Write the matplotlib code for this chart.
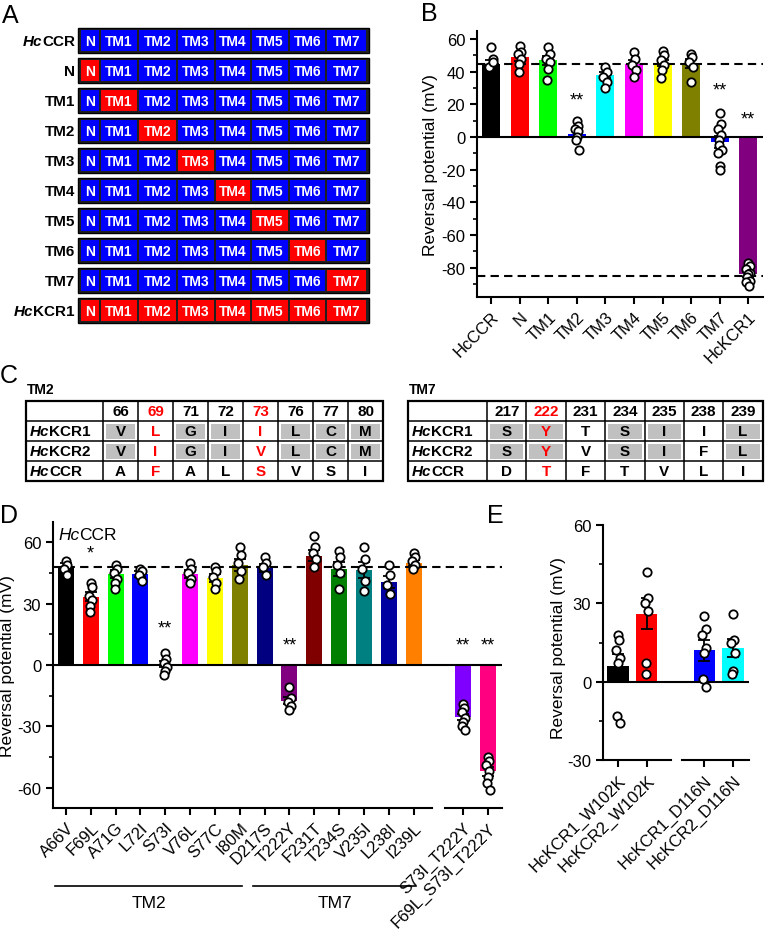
import numpy as np
import matplotlib
matplotlib.use("Agg")
import matplotlib.pyplot as plt
from matplotlib.patches import Rectangle
from matplotlib.ticker import MultipleLocator

plt.rcParams["font.family"] = ["Liberation Sans", "DejaVu Sans"]
plt.rcParams["axes.unicode_minus"] = False

W, H = 766, 945
RED = "#ff0000"
BLUE = "#0000ff"

# ---------------- panel A: chimera layout
chimera_rows = ["HcCCR", "N", "TM1", "TM2", "TM3", "TM4", "TM5", "TM6", "TM7", "HcKCR1"]
segments = ["N", "TM1", "TM2", "TM3", "TM4", "TM5", "TM6", "TM7"]
swapped = [[], [0], [1], [2], [3], [4], [5], [6], [7], [0, 1, 2, 3, 4, 5, 6, 7]]

# ---------------- panel B
b_labels = ["HcCCR", "N", "TM1", "TM2", "TM3", "TM4", "TM5", "TM6", "TM7", "HcKCR1"]
b_means = [45, 49, 47, 2, 38, 45, 45.5, 45, -3, -84]
b_sem = [2.5, 2.3, 2.6, 2.0, 2.0, 2.2, 2.0, 2.6, 3.5, 1.5]
b_colors = ["#000000", "#ff0000", "#00ff00", "#0000ff", "#00ffff",
            "#ff00ff", "#ffff00", "#808000", "#0000ff", "#800080"]
b_points = [
    [55, 48, 43, 46],
    [56, 52, 51, 48, 45, 40],
    [55, 51, 48, 46, 42, 35],
    [10, 7, 5, 4, 0, -2, -8],
    [43, 40, 37, 34, 30],
    [52, 48, 44, 41, 37],
    [53, 50, 47, 44, 41, 36],
    [51, 49, 46, 43, 34],
    [15, 8, 5, 1, -2, -5, -8, -10, -18, -20],
    [-77, -79, -81, -83, -84, -86, -88, -89, -91],
]
b_stars = {3: (23, "**"), 8: (29, "**"), 9: (11, "**")}
b_dashes = [45, -85]

# ---------------- panel C: alignments
tm2_positions = [66, 69, 71, 72, 73, 76, 77, 80]
tm2_red = [69, 73]
tm2_rows = [("HcKCR1", "VLGIILCM"), ("HcKCR2", "VIGIVLCM"), ("HcCCR", "AFALSVSI")]
tm7_positions = [217, 222, 231, 234, 235, 238, 239]
tm7_red = [222]
tm7_rows = [("HcKCR1", "SYTSIIL"), ("HcKCR2", "SYVSIFL"), ("HcCCR", "DTFTVLI")]

# ---------------- panel D
d_labels = ["A66V", "F69L", "A71G", "L72I", "S73I", "V76L", "S77C", "I80M",
            "D217S", "T222Y", "F231T", "T234S", "V235I", "L238I", "I239L",
            "S73I_T222Y", "F69L_S73I_T222Y"]
d_pos = list(range(15)) + [16, 17]
d_means = [48.5, 33.5, 44.5, 44.5, 0.5, 44.5, 42.5, 49, 47.5, -17.5,
           53.5, 47, 46.5, 40.5, 50, -25.5, -52]
d_sem = [1.5, 2.3, 2.0, 1.3, 1.6, 1.9, 2.0, 2.9, 1.8, 1.8,
         2.6, 3.3, 3.7, 2.9, 1.3, 1.6, 2.2]
d_colors = ["#000000", "#ff0000", "#00ff00", "#0000ff", "#00ffff", "#ff00ff",
            "#ffff00", "#808000", "#000080", "#800080", "#800000", "#008000",
            "#008080", "#0000a0", "#ff8000", "#8000ff", "#ff0080"]
d_points = [
    [51, 49, 47, 44],
    [40, 38, 34, 32, 29, 26],
    [49, 47, 45, 42, 40, 37],
    [47, 46, 44, 41],
    [6, 3, 1, -1, -3, -5],
    [50, 47, 45, 42, 40],
    [48, 46, 43, 40, 37],
    [58, 54, 50, 46, 42],
    [53, 50, 48, 44],
    [-11, -16, -18, -20, -22],
    [63, 58, 55, 52, 48],
    [56, 53, 49, 45, 37],
    [58, 52, 47, 41, 36],
    [49, 44, 39, 35],
    [55, 53, 51, 49, 47],
    [-19, -21, -23, -26, -28, -30, -32],
    [-45, -47, -49, -52, -55, -58, -61],
]
d_stars = {1: (55, "*"), 4: (18, "**"), 9: (10, "**"), 15: (10, "**"), 16: (10, "**")}
d_dash = 48
d_groups = [("TM2", 0, 7), ("TM7", 8, 14)]

# ---------------- panel E
e_labels = ["HcKCR1_W102K", "HcKCR2_W102K", "HcKCR1_D116N", "HcKCR2_D116N"]
e_pos = [0, 1, 3, 4]
e_means = [6, 26, 12, 13]
e_sem = [4.5, 6, 4, 3.5]
e_colors = ["#000000", "#ff0000", "#0000ff", "#00ffff"]
e_points = [
    [18, 16, 12, 9, 7, -13, -16],
    [42, 32, 30, 27, 7, 3],
    [25, 20, 18, 13, 11, 1, -2],
    [26, 16, 15, 11, 4, 3],
]

fig = plt.figure(figsize=(W / 100, H / 100), dpi=100)
ax0 = fig.add_axes([0, 0, 1, 1])
ax0.set_xlim(0, W)
ax0.set_ylim(H, 0)
ax0.axis("off")
renderer = fig.canvas.get_renderer()


def px_axes(x0, y0, x1, y1):
    return fig.add_axes([x0 / W, 1 - y1 / H, (x1 - x0) / W, (y1 - y0) / H])


def hc_label(x, y, name, size, ha="left", weight="bold"):
    # "Hc" in italics, rest upright
    rest = name[2:]
    if ha == "left":
        t = ax0.text(x, y, "Hc", fontsize=size, style="italic", weight=weight,
                     ha="left", va="center")
        x1 = t.get_window_extent(renderer).x1
        ax0.text(x1, y, rest, fontsize=size, weight=weight, ha="left", va="center")
    else:
        t = ax0.text(x, y, rest, fontsize=size, weight=weight, ha="right", va="center")
        x0 = t.get_window_extent(renderer).x0
        ax0.text(x0, y, "Hc", fontsize=size, style="italic", weight=weight,
                 ha="right", va="center")


# panel letters
for letter, (lx, ly) in zip("ABCDE", [(10, 16), (429, 14), (9, 376), (9, 516), (495, 516)]):
    ax0.text(lx, ly, letter, fontsize=18, ha="center", va="center")

# ---- A
seg_edges = [80, 100, 138, 177, 215, 251, 289, 326, 367]
for i, (name, sw) in enumerate(zip(chimera_rows, swapped)):
    top = 29 + 30 * i
    ax0.add_patch(Rectangle((78, top), 291, 25, facecolor="#202020", edgecolor="k", lw=1))
    for j, seg in enumerate(segments):
        c = RED if j in sw else BLUE
        ax0.add_patch(Rectangle((seg_edges[j] + 1, top + 2),
                                seg_edges[j + 1] - seg_edges[j] - 2, 21,
                                facecolor=c, edgecolor="none"))
        ax0.text((seg_edges[j] + seg_edges[j + 1]) / 2, top + 12.5, seg, color="w",
                 fontsize=10, weight="bold", ha="center", va="center")
    if name.startswith("Hc"):
        hc_label(75, top + 12.5, name, 11, ha="right")
    else:
        ax0.text(75, top + 12.5, name, fontsize=11, weight="bold", ha="right", va="center")


# ---- C
def draw_table(x0, label_w, col_w, top, positions, red_pos, rows, title):
    row_h = 20
    ncol = len(positions)
    total_w = label_w + col_w * ncol
    nrow = len(rows) + 1
    ax0.text(x0 + 1, top - 12, title, fontsize=10, weight="bold", ha="left", va="center")
    for k, p in enumerate(positions):
        cx = x0 + label_w + col_w * (k + 0.5)
        ax0.text(cx, top + row_h / 2, str(p), fontsize=11, weight="bold",
                 color=RED if p in red_pos else "k", ha="center", va="center")
    kcr1, kcr2 = rows[0][1], rows[1][1]
    for r, (name, seq) in enumerate(rows):
        y = top + row_h * (r + 1)
        for k, aa in enumerate(seq):
            cx = x0 + label_w + col_w * k
            if r < 2 and kcr1[k] == kcr2[k]:
                ax0.add_patch(Rectangle((cx + 3, y + 2.5), col_w - 6, row_h - 5,
                                        facecolor="#c0c0c0", edgecolor="none"))
            ax0.text(cx + col_w / 2, y + row_h / 2, aa, fontsize=11, weight="bold",
                     color=RED if positions[k] in red_pos else "k",
                     ha="center", va="center")
        hc_label(x0 + 4, y + row_h / 2, name, 11)
    for r in range(1, nrow):
        ax0.plot([x0, x0 + total_w], [top + row_h * r] * 2, color="k", lw=1.1)
    for k in range(ncol):
        xx = x0 + label_w + col_w * k
        ax0.plot([xx, xx], [top, top + row_h * nrow], color="k", lw=1.1)
    ax0.add_patch(Rectangle((x0, top), total_w, row_h * nrow, facecolor="none",
                            edgecolor="k", lw=1.6))


draw_table(26, 77, 35, 402, tm2_positions, tm2_red, tm2_rows, "TM2")
draw_table(408, 79, 39.4, 402, tm7_positions, tm7_red, tm7_rows, "TM7")


# ---- bar panels
def style(ax, ylim, major, minor):
    ax.set_ylim(ylim)
    ax.yaxis.set_major_locator(MultipleLocator(major))
    ax.yaxis.set_minor_locator(MultipleLocator(minor))
    for s in ["top", "right"]:
        ax.spines[s].set_visible(False)
    ax.spines["left"].set_linewidth(1.5)
    ax.spines["bottom"].set_linewidth(1.5)
    ax.tick_params(which="major", direction="out", length=5, width=1.5, labelsize=12)
    ax.tick_params(which="minor", direction="out", length=3, width=1.2)
    ax.axhline(0, color="k", lw=1.5, zorder=5)
    ax.patch.set_alpha(0)


def bars(ax, xpos, means, sems, colors, points, width):
    ax.bar(xpos, means, width, color=colors, zorder=2)
    ax.errorbar(xpos, means, yerr=sems, fmt="none", ecolor="k", elinewidth=1.3,
                capsize=4, capthick=1.3, zorder=3)
    for x, pts in zip(xpos, points):
        off = 0.07 * np.sin(np.arange(len(pts)) * 2.4)
        ax.plot(x + off, pts, "o", ms=6, mfc="w", mec="k", mew=1.3, zorder=6, clip_on=False)


def broken_bottom(ax, pieces):
    ax.spines["bottom"].set_visible(False)
    for a, b in pieces:
        ax.plot([a, b], [0, 0], transform=ax.get_xaxis_transform(), color="k",
                lw=1.5, clip_on=False)


def xlabels(ax, pos, labels):
    ax.set_xticks(pos)
    ax.set_xticklabels(labels, rotation=45, ha="right", va="top",
                       rotation_mode="anchor", fontsize=12)


# B
axb = px_axes(477, 32, 763, 298)
bars(axb, range(len(b_means)), b_means, b_sem, b_colors, b_points, 0.63)
style(axb, (-98, 65), 20, 10)
axb.set_xlim(-0.5, 9.52)
for v in b_dashes:
    axb.axhline(v, color="k", lw=1.5, ls=(0, (4, 2.5)), zorder=5)
for k, (yv, s) in b_stars.items():
    axb.text(k, yv, s, fontsize=13, ha="center", va="center")
xlabels(axb, range(len(b_labels)), b_labels)
axb.set_ylabel("Reversal potential (mV)", fontsize=12.5)
axb.yaxis.set_label_coords(-0.136, 0.5)

# D
axd = px_axes(53, 523, 502, 809)
bars(axd, d_pos, d_means, d_sem, d_colors, d_points, 0.65)
style(axd, (-70, 70), 30, 15)
axd.set_xlim(-0.52, 17.56)
axd.axhline(d_dash, color="k", lw=1.5, ls=(0, (4, 2.5)), zorder=5)
for k, (yv, s) in d_stars.items():
    axd.text(d_pos[k], yv, s, fontsize=13, ha="center", va="center")
xlabels(axd, d_pos, d_labels)
broken_bottom(axd, [(-0.52, 14.75), (15.25, 17.56)])
axd.set_ylabel("Reversal potential (mV)", fontsize=12.5)
axd.yaxis.set_label_coords(-0.085, 0.5)
hc_label(58, 536, "HcCCR", 12.5, weight="normal")
for name, i0, i1 in d_groups:
    a, b = d_pos[i0] - 0.45, d_pos[i1] + 0.1
    axd.plot([a, b], [-0.273, -0.273], transform=axd.get_xaxis_transform(),
             color="k", lw=1.2, clip_on=False)
    axd.text((a + b) / 2, -0.33, name, transform=axd.get_xaxis_transform(),
             fontsize=12.5, ha="center", va="center")

# E
axe = px_axes(603, 526, 749, 761)
bars(axe, e_pos, e_means, e_sem, e_colors, e_points, 0.74)
style(axe, (-30, 60), 30, 15)
axe.set_xlim(-0.52, 4.56)
xlabels(axe, e_pos, e_labels)
broken_bottom(axe, [(-0.52, 1.85), (2.22, 4.56)])
axe.set_ylabel("Reversal potential (mV)", fontsize=12.5)
axe.yaxis.set_label_coords(-0.253, 0.48)

fig.savefig("out.png", dpi=100)
